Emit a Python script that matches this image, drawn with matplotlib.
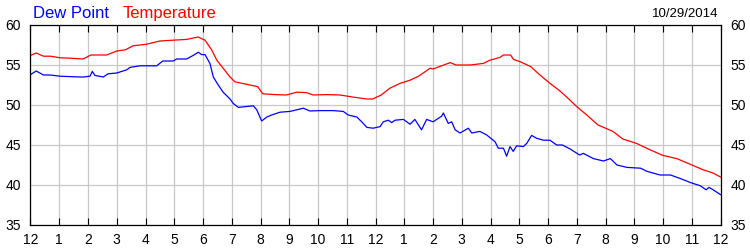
import matplotlib
matplotlib.use("Agg")
import matplotlib.pyplot as plt

# === Data (hours since midnight, degrees F) ===
temp_hours = [0.0, 0.2, 0.45, 0.7, 1.03, 1.4, 1.83, 2.1, 2.65, 3.0, 3.3, 3.57,
              4.04, 4.5, 4.96, 5.43, 5.83, 6.07, 6.3, 6.48, 6.7, 6.94, 7.11,
              7.63, 7.9, 8.08, 8.5, 8.9, 9.26, 9.6, 9.83, 10.3, 10.77, 11.2,
              11.7, 11.9, 12.2, 12.5, 12.85, 13.2, 13.5, 13.9, 14.0, 14.3,
              14.6, 14.8, 15.3, 15.75, 15.98, 16.33, 16.45, 16.7, 16.8, 17.04,
              17.4, 17.72, 18.07, 18.4, 18.65, 19.0, 19.35, 19.74, 20.26, 20.6,
              21.08, 21.55, 22.0, 22.48, 22.94, 23.4, 23.74, 24.0]
temp_values = [56.2, 56.5, 56.1, 56.1, 55.9, 55.85, 55.75, 56.25, 56.25, 56.75,
               56.9, 57.4, 57.6, 58.0, 58.1, 58.2, 58.5, 58.1, 56.9, 55.6,
               54.6, 53.5, 52.9, 52.5, 52.3, 51.4, 51.3, 51.25, 51.6, 51.55,
               51.25, 51.3, 51.25, 51.0, 50.75, 50.75, 51.25, 52.1, 52.7, 53.1,
               53.6, 54.6, 54.5, 54.9, 55.3, 55.0, 55.0, 55.2, 55.6, 55.95,
               56.25, 56.25, 55.7, 55.4, 54.8, 53.75, 52.7, 51.8, 51.0, 49.8,
               48.75, 47.5, 46.7, 45.75, 45.2, 44.4, 43.7, 43.3, 42.6, 41.9,
               41.5, 41.0]

dew_hours = [0.0, 0.2, 0.45, 0.68, 1.03, 1.72, 1.84, 2.07, 2.15, 2.24, 2.53,
             2.7, 3.0, 3.35, 3.46, 3.8, 4.16, 4.39, 4.6, 4.97, 5.08, 5.43,
             5.66, 5.84, 5.95, 6.07, 6.24, 6.36, 6.53, 6.7, 6.94, 7.05, 7.23,
             7.75, 7.87, 8.04, 8.22, 8.39, 8.68, 9.03, 9.49, 9.72, 10.07,
             10.53, 10.88, 11.05, 11.35, 11.52, 11.7, 11.92, 12.16, 12.27,
             12.45, 12.56, 12.68, 12.97, 13.2, 13.37, 13.6, 13.78, 14.0, 14.3,
             14.36, 14.53, 14.65, 14.77, 14.94, 15.23, 15.35, 15.63, 15.87,
             16.16, 16.27, 16.45, 16.56, 16.68, 16.79, 16.91, 17.14, 17.26,
             17.43, 17.6, 17.84, 18.07, 18.3, 18.5, 18.77, 19.1, 19.23, 19.58,
             19.93, 20.17, 20.4, 20.75, 21.22, 21.45, 21.9, 22.26, 22.61,
             22.96, 23.3, 23.5, 23.6, 23.7, 24.0]
dew_values = [53.8, 54.25, 53.75, 53.75, 53.6, 53.5, 53.5, 53.6, 54.2, 53.7,
              53.5, 53.9, 54.0, 54.4, 54.7, 54.9, 54.9, 54.9, 55.5, 55.5,
              55.75, 55.75, 56.2, 56.6, 56.3, 56.3, 55.2, 53.5, 52.5, 51.6,
              50.75, 50.2, 49.7, 49.9, 49.4, 48.0, 48.5, 48.75, 49.1, 49.2,
              49.6, 49.25, 49.3, 49.3, 49.2, 48.75, 48.5, 47.9, 47.2, 47.1,
              47.3, 47.9, 48.1, 47.8, 48.1, 48.2, 47.6, 48.2, 46.9, 48.2,
              47.9, 48.6, 49.0, 47.7, 47.9, 46.9, 46.5, 47.1, 46.5, 46.7,
              46.25, 45.4, 44.6, 44.6, 43.6, 44.8, 44.2, 44.9, 44.8, 45.2,
              46.2, 45.85, 45.6, 45.6, 45.0, 45.0, 44.5, 43.75, 43.95, 43.3,
              43.0, 43.3, 42.5, 42.2, 42.1, 41.7, 41.25, 41.25, 40.8, 40.3,
              39.9, 39.4, 39.7, 39.5, 38.8]

hour_ticks = list(range(25))
hour_labels = ["12", "1", "2", "3", "4", "5", "6", "7", "8", "9", "10", "11",
               "12", "1", "2", "3", "4", "5", "6", "7", "8", "9", "10", "11", "12"]
y_ticks = [35, 40, 45, 50, 55, 60]
date_label = "10/29/2014"

plt.rcParams['font.family'] = ['Liberation Sans', 'DejaVu Sans']

# === Figure ===
fig = plt.figure(figsize=(7.5, 2.5), dpi=100)
ax = fig.add_axes([30.5 / 750, 0.1, 690 / 750, 0.8])

ax.plot(temp_hours, temp_values, color='#ff0000', lw=0.9)
ax.plot(dew_hours, dew_values, color='#0000ff', lw=0.9)

ax.set_xlim(0, 24)
ax.set_ylim(35, 60)
ax.set_xticks(hour_ticks)
ax.set_xticklabels(hour_labels)
ax.set_yticks(y_ticks)
ax.grid(True, color='#c8c8c8', lw=0.9)
ax.set_axisbelow(True)

ax.tick_params(axis='x', direction='in', length=5, width=0.8, top=True,
               labelsize=10, pad=6)
ax.tick_params(axis='y', length=0, labelsize=10, pad=7,
               right=True, labelright=True)
for s in ax.spines.values():
    s.set_linewidth(0.9)
    s.set_color('black')

# legend-like titles and date
fig.text(33 / 750, 1 - 18 / 250, "Dew Point", color='#0000ff', fontsize=12,
         ha='left', va='baseline')
fig.text(123 / 750, 1 - 18 / 250, "Temperature", color='#ff0000', fontsize=12,
         ha='left', va='baseline')
fig.text(718 / 750, 1 - 17 / 250, date_label, color='black', fontsize=9.5,
         ha='right', va='baseline')

plt.savefig("out.png", dpi=100)
